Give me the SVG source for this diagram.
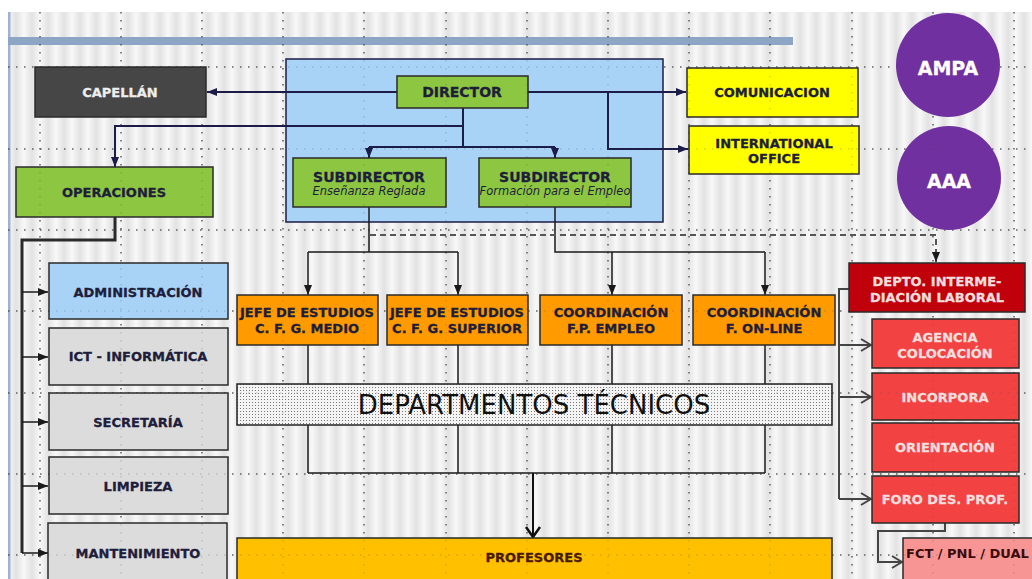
<svg xmlns="http://www.w3.org/2000/svg" width="1032" height="579" viewBox="0 0 1032 579">
<defs>
<linearGradient id="sg" x1="0" y1="0" x2="1" y2="0">
<stop offset="0" stop-color="#e2e2e2"/><stop offset="0.5" stop-color="#f8f8f8"/><stop offset="1" stop-color="#e2e2e2"/>
</linearGradient>
<pattern id="stripes" width="16" height="10" patternUnits="userSpaceOnUse">
<rect width="16" height="10" fill="url(#sg)"/>
</pattern>
<pattern id="dots" width="3" height="3" patternUnits="userSpaceOnUse">
<rect width="3" height="3" fill="#f4f4f4"/><rect width="1" height="1" fill="#777"/>
</pattern>
<marker id="arr" markerUnits="userSpaceOnUse" markerWidth="10" markerHeight="10" viewBox="0 0 10 10" refX="10" refY="5" orient="auto">
<path d="M0,1 L10,5 L0,9 Z" fill="#1a1a1a"/>
</marker>
<marker id="arrN" markerUnits="userSpaceOnUse" markerWidth="10" markerHeight="10" viewBox="0 0 10 10" refX="10" refY="5" orient="auto">
<path d="M0,1 L10,5 L0,9 Z" fill="#1c1c48"/>
</marker>
<marker id="chev" markerUnits="userSpaceOnUse" markerWidth="12" markerHeight="14" viewBox="0 0 12 14" refX="11" refY="7" orient="auto">
<path d="M1,1 L11,7 L1,13" fill="none" stroke="#444" stroke-width="2"/>
</marker>
<marker id="chevB" markerUnits="userSpaceOnUse" markerWidth="12" markerHeight="16" viewBox="0 0 12 16" refX="11" refY="8" orient="auto">
<path d="M1,1 L11,8 L1,15" fill="none" stroke="#111" stroke-width="2.5"/>
</marker>
</defs>
<style>
.box{stroke:#2a2a2a;stroke-width:1.5}
.t{font-family:"DejaVu Sans",Verdana,sans-serif;font-weight:bold;font-size:13px;text-anchor:middle;fill:#1e1e3c;stroke:#1e1e3c;stroke-width:0.3}
.w{fill:#f3dede;stroke:#f3dede}
.it{font-family:"DejaVu Sans",Verdana,sans-serif;font-style:italic;font-size:11.5px;text-anchor:middle;fill:#1e1e3c}
.c{fill:none;stroke:#1a1a1a;stroke-width:1.5}
.cn{fill:none;stroke:#1c1c48;stroke-width:2}
.grid{fill:none;stroke:#444;stroke-width:1.5;stroke-dasharray:1.5 6.5;opacity:0.75}
.green{fill:#8dc641}
.red{fill:#f24242}
.grey{fill:#dcdcdc}
.orange{fill:#ff9a00}
</style>

<rect x="0" y="0" width="1032" height="579" fill="#ffffff"/>
<rect x="8" y="12" width="1024" height="567" fill="url(#stripes)"/>
<rect x="8" y="12" width="2.5" height="567" fill="#9fb2cf"/>
<rect x="8" y="37" width="785" height="8" fill="#8ea6c6"/>

<g id="grid">
<path class="grid" d="M40,12V579M121,12V579M202,12V579M283,12V579M364,12V579M446,12V579M527,12V579M608,12V579M689,12V579M770,12V579M852,12V579M933,12V579M1014,12V579"/>
<path class="grid" d="M8,67H1032M8,149H1032M8,230H1032M8,311H1032M8,393H1032M8,474H1032M8,555H1032"/>
</g>

<g id="director-group">
<rect x="286" y="59" width="377" height="163" fill="#a9d2f7" stroke="#1c1c48" stroke-width="1.5"/>
</g>

<g id="connectors">
<path class="cn" d="M397,92H207" marker-end="url(#arrN)"/>
<path class="cn" d="M463,108V147M369,147H555"/>
<path class="cn" d="M369,147V158" marker-end="url(#arrN)"/>
<path class="cn" d="M555,147V158" marker-end="url(#arrN)"/>
<path class="cn" d="M463,126H115V167" marker-end="url(#arrN)"/>
<path class="cn" d="M528,92H686" marker-end="url(#arrN)"/>
<path class="cn" d="M608,92V149H688" marker-end="url(#arrN)"/>
<path class="c" d="M369,207V252M308,252H458"/>
<path class="c" d="M308,252V295" marker-end="url(#arr)"/>
<path class="c" d="M458,252V295" marker-end="url(#arr)"/>
<path class="c" d="M555,207V252H765"/>
<path class="c" d="M612,252V295" marker-end="url(#arr)"/>
<path class="c" d="M765,252V295" marker-end="url(#arr)"/>
<path d="M370,235H936V262" fill="none" stroke="#555" stroke-width="2" stroke-dasharray="6 4" marker-end="url(#arr)"/>
<path class="c" d="M308,345V384M458,345V384M612,345V384M765,345V384"/>
<path class="c" d="M308,425V473M458,425V473M612,425V473M765,425V473M308,473H765"/>
<path d="M533,473V537" fill="none" stroke="#111" stroke-width="2" marker-end="url(#chevB)"/>
<path d="M115,217V240H22V553" fill="none" stroke="#2a2a2a" stroke-width="3"/>
<path class="c" d="M22,292H48" marker-end="url(#arr)"/>
<path class="c" d="M22,357H48" marker-end="url(#arr)"/>
<path class="c" d="M22,422H48" marker-end="url(#arr)"/>
<path class="c" d="M22,486H48" marker-end="url(#arr)"/>
<path class="c" d="M22,553H48" marker-end="url(#arr)"/>
<path d="M849,289H839V499" fill="none" stroke="#444" stroke-width="2"/>
<path d="M839,345H871" fill="none" stroke="#444" stroke-width="2" marker-end="url(#chev)"/>
<path d="M839,397H871" fill="none" stroke="#444" stroke-width="2" marker-end="url(#chev)"/>
<path d="M839,499H871" fill="none" stroke="#444" stroke-width="2" marker-end="url(#chev)"/>
<path d="M945,523V531H878V562H902" fill="none" stroke="#444" stroke-width="2" marker-end="url(#chev)"/>
</g>

<g id="capellan"><rect class="box" x="35" y="67" width="171" height="50" fill="#464646"/><text class="t" x="120" y="97" style="fill:#eeeeee;stroke:#eeeeee">CAPELLÁN</text></g>
<g id="operaciones"><rect class="box green" x="16" y="167" width="197" height="50"/><text class="t" x="114" y="197">OPERACIONES</text></g>
<g id="director"><rect class="box green" x="397" y="76" width="131" height="32"/><text class="t" x="462" y="97" style="font-size:14px">DIRECTOR</text></g>
<g id="sub1"><rect class="box green" x="293" y="158" width="153" height="49"/><text class="t" x="369" y="182" style="font-size:14px">SUBDIRECTOR</text><text class="it" x="369" y="195">Enseñanza Reglada</text></g>
<g id="sub2"><rect class="box green" x="479" y="158" width="152" height="49"/><text class="t" x="555" y="182" style="font-size:14px">SUBDIRECTOR</text><text class="it" x="555" y="195">Formación para el Empleo</text></g>
<g id="comunicacion"><rect class="box" x="687" y="68" width="171" height="49" fill="#ffff00"/><text class="t" x="772" y="97">COMUNICACION</text></g>
<g id="international"><rect class="box" x="689" y="126" width="170" height="48" fill="#ffff00"/><text class="t" x="774" y="148">INTERNATIONAL</text><text class="t" x="774" y="163">OFFICE</text></g>
<g id="ampa"><circle cx="948" cy="65" r="52" fill="#7030a0"/><text class="t" x="948" y="75" style="font-size:19px;fill:#ffffff;stroke:#ffffff">AMPA</text></g>
<g id="aaa"><circle cx="949" cy="178" r="52" fill="#7030a0"/><text class="t" x="949" y="188" style="font-size:19px;fill:#ffffff;stroke:#ffffff">AAA</text></g>

<g id="administracion"><rect class="box" x="49" y="263" width="179" height="56" fill="#a9d2f7"/><text class="t" x="138" y="297">ADMINISTRACIÓN</text></g>
<g id="ict"><rect class="box grey" x="49" y="328" width="179" height="57"/><text class="t" x="138" y="361">ICT - INFORMÁTICA</text></g>
<g id="secretaria"><rect class="box grey" x="49" y="393" width="179" height="57"/><text class="t" x="138" y="427">SECRETARÍA</text></g>
<g id="limpieza"><rect class="box grey" x="49" y="457" width="179" height="57"/><text class="t" x="138" y="491">LIMPIEZA</text></g>
<g id="mantenimiento"><rect class="box grey" x="48" y="523" width="179" height="70"/><text class="t" x="138" y="558">MANTENIMIENTO</text></g>

<g id="jefe-medio"><rect class="box orange" x="237" y="295" width="141" height="50"/><text class="t" x="307" y="317">JEFE DE ESTUDIOS</text><text class="t" x="307" y="333">C. F. G. MEDIO</text></g>
<g id="jefe-superior"><rect class="box orange" x="387" y="295" width="141" height="50"/><text class="t" x="457" y="317">JEFE DE ESTUDIOS</text><text class="t" x="457" y="333">C. F. G. SUPERIOR</text></g>
<g id="coord-fp"><rect class="box orange" x="540" y="295" width="142" height="50"/><text class="t" x="611" y="317">COORDINACIÓN</text><text class="t" x="611" y="333">F.P. EMPLEO</text></g>
<g id="coord-online"><rect class="box orange" x="693" y="295" width="142" height="50"/><text class="t" x="764" y="317">COORDINACIÓN</text><text class="t" x="764" y="333">F. ON-LINE</text></g>

<g id="departamentos"><rect x="237" y="384" width="595" height="41" fill="url(#dots)" stroke="#222" stroke-width="1.5"/><text x="534" y="414" text-anchor="middle" style="font-family:'DejaVu Sans',Verdana,sans-serif;font-size:26px;fill:#111">DEPARTMENTOS TÉCNICOS</text></g>
<g id="profesores"><rect class="box" x="237" y="538" width="595" height="50" fill="#ffc000"/><text class="t" x="534" y="562" style="fill:#4a1a00;stroke:#4a1a00">PROFESORES</text></g>

<g id="depto"><rect class="box" x="849" y="263" width="176" height="49" fill="#c0000a"/><text class="t w" x="937" y="286">DEPTO. INTERME-</text><text class="t w" x="937" y="302">DIACIÓN LABORAL</text></g>
<g id="agencia"><rect class="box red" x="872" y="319" width="147" height="49"/><text class="t w" x="945" y="342">AGENCIA</text><text class="t w" x="945" y="358">COLOCACIÓN</text></g>
<g id="incorpora"><rect class="box red" x="872" y="373" width="147" height="47"/><text class="t w" x="945" y="402">INCORPORA</text></g>
<g id="orientacion"><rect class="box red" x="872" y="423" width="147" height="49"/><text class="t w" x="945" y="452">ORIENTACIÓN</text></g>
<g id="foro"><rect class="box red" x="872" y="476" width="147" height="47"/><text class="t w" x="945" y="504">FORO DES. PROF.</text></g>
<g id="fct"><rect class="box" x="903" y="538" width="140" height="50" fill="#f79595"/><text x="906" y="558" style="font-family:'DejaVu Sans',Verdana,sans-serif;font-weight:bold;font-size:13px;fill:#3a0a0a">FCT / PNL / DUAL</text></g>

<path class="grid" style="opacity:0.2" d="M40,12V579M121,12V579M202,12V579M283,12V579M364,12V579M446,12V579M527,12V579M608,12V579M689,12V579M770,12V579M852,12V579M933,12V579M1014,12V579M8,67H1032M8,149H1032M8,230H1032M8,311H1032M8,393H1032M8,474H1032M8,555H1032"/>
</svg>
